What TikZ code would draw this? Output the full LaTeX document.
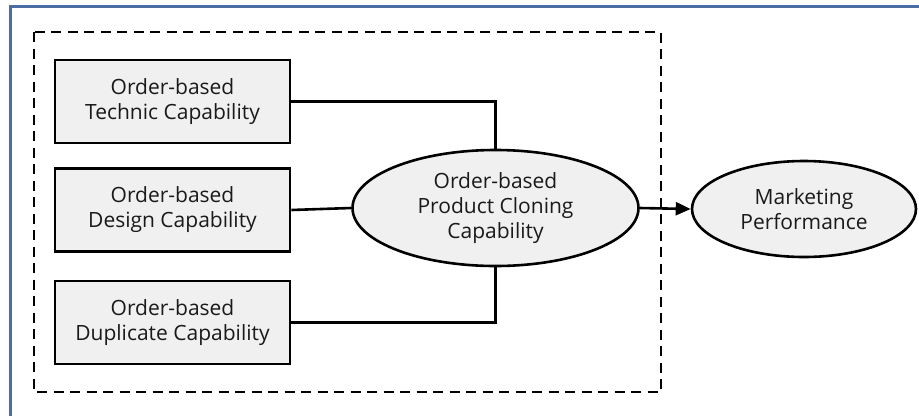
\documentclass[tikz,border=0pt]{standalone}
\usepackage{fontspec}
\setmainfont{Open Sans}
\usetikzlibrary{arrows.meta,shapes.geometric}
\definecolor{framecol}{HTML}{4A6EA3}
\definecolor{boxfill}{HTML}{F0F0F0}
\definecolor{txt}{HTML}{1A1A1A}
\tikzset{
  capbox/.style={draw=black, line width=2.6pt, fill=boxfill, minimum width=235pt, minimum height=83pt, align=center, font=\fontsize{21}{25}\selectfont, text=txt, inner sep=0pt},
  capell/.style={draw=black, line width=2.6pt, fill=boxfill, ellipse, align=center, font=\fontsize{21}{25}\selectfont, text=txt, inner sep=0pt},
  conn/.style={draw=black, line width=2.6pt},
  groupbox/.style={draw=black, line width=2.8pt, dash pattern=on 10pt off 6.5pt},
}
\begin{document}
\begin{tikzpicture}[x=1pt,y=-1pt]
\useasboundingbox (0,0) rectangle (919,416);
\fill[white] (0,0) rectangle (919,416);
% outer frame (only top and left edges visible)
\draw[framecol, line width=2.4pt] (10.5,416) -- (10.5,6.5) -- (919,6.5);
% dashed grouping box
\draw[groupbox] (34,32) rectangle (661,392);
% nodes
\node[capbox] (tech) at (172.5,101.5) {Order-based\\Technic Capability};
\node[capbox] (design) at (172.5,210) {Order-based\\Design Capability};
\node[capbox] (dup) at (172.5,322.5) {Order-based\\Duplicate Capability};
\node[capell, minimum width=286pt, minimum height=116pt] (clone) at (495.5,208) {Order-based\\Product Cloning\\Capability};
\node[capell, minimum width=224pt, minimum height=96pt] (mkt) at (804,209) {Marketing\\Performance};
% connectors
\draw[conn] (tech.east) -| (clone.north);
\draw[conn] (dup.east) -| (clone.south);
\draw[conn] (design.east) -- (clone.west);
\draw[conn, -{Triangle[length=15pt,width=13pt]}] (clone.east) -- (mkt.west);
\end{tikzpicture}
\end{document}
